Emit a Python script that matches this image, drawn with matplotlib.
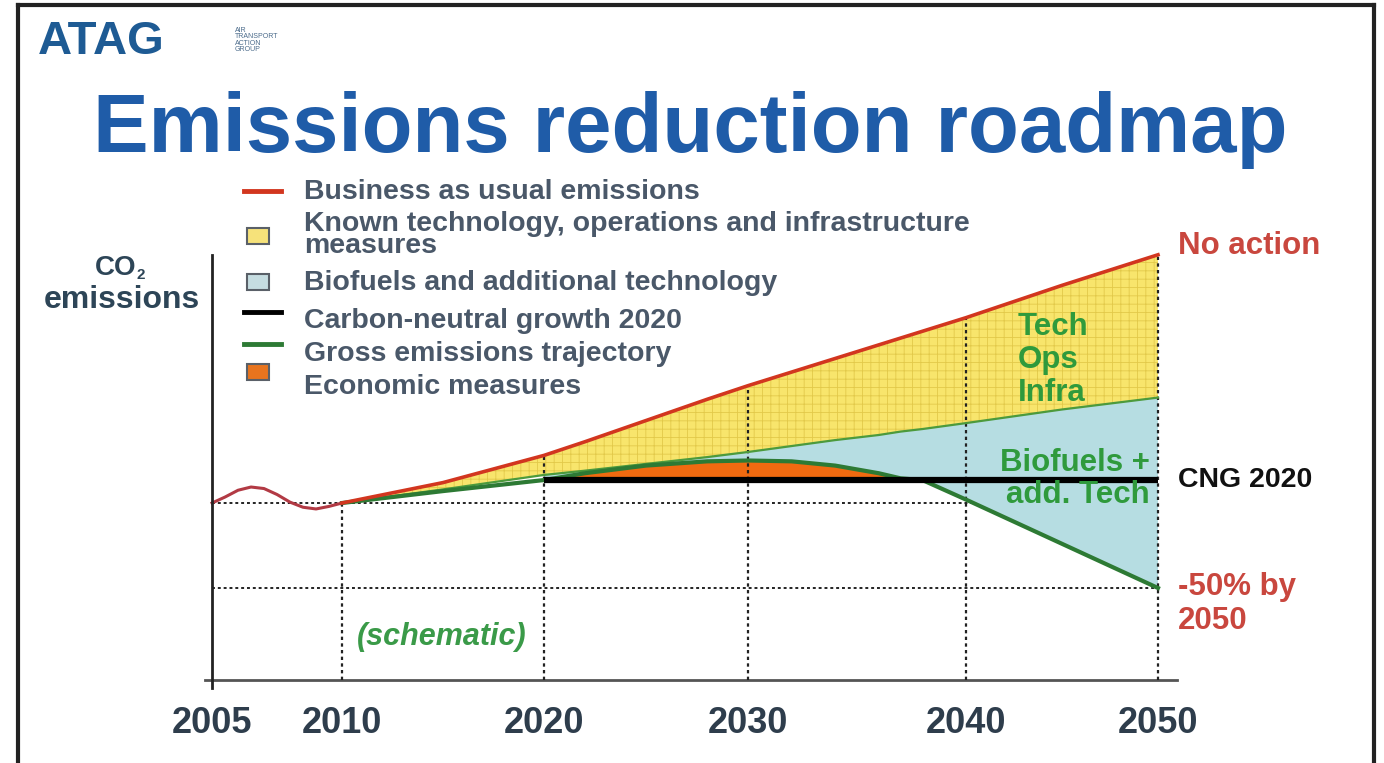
import numpy as np
import matplotlib
matplotlib.use('Agg')
import matplotlib.pyplot as plt
from matplotlib.lines import Line2D
from matplotlib.patches import Rectangle

plt.rcParams['font.family'] = ['Liberation Sans', 'DejaVu Sans']
plt.rcParams['hatch.linewidth'] = 0.6

# ---- data (index, 2010 = 100) ----
pre_years = [2005, 2005.5, 2006, 2006.5, 2007, 2007.5, 2008, 2008.5, 2009, 2009.5, 2010]
pre_bau = [100, 103.5, 107.5, 109.4, 108.5, 105, 100.5, 97.5, 96.5, 98, 100]

years = [2010, 2015, 2020, 2022, 2025, 2028, 2030, 2032, 2034, 2036, 2037, 2038, 2040, 2045, 2050]
bau = [100, 112, 128, 136, 148.5, 161, 169, 177, 185, 193, 197, 201, 209, 228, 246]
tech = [100, 108, 116.5, 119, 123, 127, 130, 133.5, 137, 140, 142, 143.5, 147, 155, 162]
gross = [100, 107, 113.5, 117.5, 122, 124.5, 125, 124.5, 122, 117.5, 114.5, 113.5, 102, 76, 50]
cng_level = 113.5
cng_start = 2020

tick_years = [2005, 2010, 2020, 2030, 2040, 2050]
grid_years = [2010, 2020, 2030, 2040, 2050]
grid_levels = [100, 50]

legend_labels = ['Business as usual emissions',
                 'Known technology, operations and infrastructure\nmeasures',
                 'Biofuels and additional technology',
                 'Carbon-neutral growth 2020',
                 'Gross emissions trajectory',
                 'Economic measures']

# schematic x axis: years are not evenly spaced on the slide
tick_px = [212, 342, 544, 748, 966, 1158]
ext_years = [1990] + tick_years + [2070]
ext_px = [212 - 15 * 26] + tick_px + [1158 + 20 * 19.2]

def fwd(v):
    return np.interp(v, ext_years, ext_px)

def inv(p):
    return np.interp(p, ext_px, ext_years)

W, H = 1384, 763
def px(x, y):
    return x / W, 1 - y / H

yrs = np.array(years, dtype=float)
bau_a = np.array(bau)
tech_a = np.array(tech)
gross_a = np.array(gross)

fig = plt.figure(figsize=(W / 100, H / 100), dpi=100)
ax = fig.add_axes([205 / W, 1 - 680 / H, (1177 - 205) / W, (680 - 250) / H])
ax.set_xscale('function', functions=(fwd, inv))
ax.set_xlim(2004.73, 2050.99)
ax.set_ylim(-4.1, 248.8)

# dotted guide lines
dot = (0, (1.5, 1.5))
ax.hlines(grid_levels, 2005, 2050, colors='#222222', linestyles=dot, lw=1.4, zorder=1)
ax.vlines(grid_years, -4.1, np.interp(grid_years, years, bau), colors='#222222',
          linestyles=dot, lw=1.6, zorder=3)

# fills
ax.fill_between(yrs, tech_a, bau_a, facecolor='#f8e56c', edgecolor='#e2c94a',
                hatch='++', linewidth=0, zorder=2)
m = yrs >= cng_start
ax.fill_between(yrs[m], gross_a[m], tech_a[m], facecolor='#b6dde2', linewidth=0, zorder=2)
ax.fill_between(yrs[m], cng_level, gross_a[m], where=gross_a[m] > cng_level,
                interpolate=True, facecolor='#f06a10', linewidth=0, zorder=2)

# lines
ax.plot(yrs, tech_a, color='#4c9a3c', lw=1.6, zorder=4)
ax.plot(yrs, gross_a, color='#2d7a34', lw=3, zorder=4)
ax.hlines(cng_level, cng_start, 2050, colors='black', lw=4.5, zorder=5)
ax.plot(pre_years, pre_bau, color='#b23a44', lw=2.2, zorder=6)
ax.plot(yrs, bau_a, color='#d2361f', lw=2.6, zorder=6)

# axes
for s in ['top', 'right', 'left']:
    ax.spines[s].set_visible(False)
ax.spines['bottom'].set_linewidth(2)
ax.spines['bottom'].set_color('#555555')
ax.plot([2005, 2005], [-8.8, 246], color='#222222', lw=2, clip_on=False, zorder=6)
ax.set_yticks([])
ax.set_xticks(tick_years)
ax.set_xticklabels([str(y) for y in tick_years], fontsize=26, fontweight='bold', color='#2e3d4c')
ax.tick_params(axis='x', length=0, pad=19)
ax.patch.set_alpha(0)

# title and logo
fig.text(*px(690, 130), 'Emissions reduction roadmap', ha='center', va='center',
         fontsize=60, fontweight='bold', color='#1f5ca8')
fig.text(*px(38, 42), 'ATAG', ha='left', va='center', fontsize=34, fontweight='bold',
         color='#1e5b94')
fig.text(*px(235, 40), 'AIR\nTRANSPORT\nACTION\nGROUP', ha='left', va='center', fontsize=5,
         color='#4a6a8a', linespacing=0.9)

# y label
fig.text(*px(116, 268), 'CO', ha='center', va='center', fontsize=20, fontweight='bold', color='#2d4557')
fig.text(*px(141, 275), '2', ha='center', va='center', fontsize=11, fontweight='bold', color='#2d4557')
fig.text(*px(122, 300), 'emissions', ha='center', va='center', fontsize=23, fontweight='bold', color='#2d4557')

# legend (drawn by hand to follow the slide layout)
text_y = [192, 235, 283, 321, 354, 387]
mark_y = [191, 236, 282, 312, 344, 372]
kinds = [('line', '#d2361f'), ('box', '#f6e27a'), ('box', '#c6dde1'),
         ('line', 'black'), ('line', '#2d7a34'), ('box', '#e8741e')]
for lab, ty, my, (kind, col) in zip(legend_labels, text_y, mark_y, kinds):
    if kind == 'line':
        x0, y0 = px(244, my)
        x1, _ = px(281, my)
        fig.add_artist(Line2D([x0, x1], [y0, y0], color=col, lw=3.5))
    else:
        x0, y0 = px(247, my + 8)
        fig.add_artist(Rectangle((x0, y0), 22 / W, 16 / H, facecolor=col,
                                 edgecolor='#5a6068', lw=1.5))
    fig.text(*px(304, ty), lab, ha='left', va='center', fontsize=20.5, fontweight='bold',
             color='#4a5869', linespacing=0.78)

# annotations
fig.text(*px(1178, 246), 'No action', ha='left', va='center', fontsize=22.5,
         fontweight='bold', color='#c9473e')
fig.text(*px(1178, 480), 'CNG 2020', ha='left', va='center', fontsize=20.5,
         fontweight='bold', color='#111111')
fig.text(*px(1178, 604), '-50% by\n2050', ha='left', va='center', fontsize=22.5,
         fontweight='bold', color='#c9473e', linespacing=1.15)
fig.text(*px(1018, 360), 'Tech\nOps\nInfra', ha='left', va='center', fontsize=22.5,
         fontweight='bold', color='#2f9a3c', linespacing=1.15)
fig.text(*px(1150, 463), 'Biofuels +', ha='right', va='center', fontsize=22.5,
         fontweight='bold', color='#2f9a3c')
fig.text(*px(1150, 495), 'add. Tech', ha='right', va='center', fontsize=22.5,
         fontweight='bold', color='#2f9a3c')
fig.text(*px(442, 637), '(schematic)', ha='center', va='center', fontsize=22,
         fontweight='bold', fontstyle='italic', color='#3a9a48')

# slide frame
for xs, ys in [([18, 18], [5, 763]), ([1374, 1374], [5, 763]), ([18, 1374], [5, 5])]:
    fig.add_artist(Line2D([x / W for x in xs], [1 - y / H for y in ys], color='#222222', lw=3))

fig.savefig('out.png', dpi=100)
